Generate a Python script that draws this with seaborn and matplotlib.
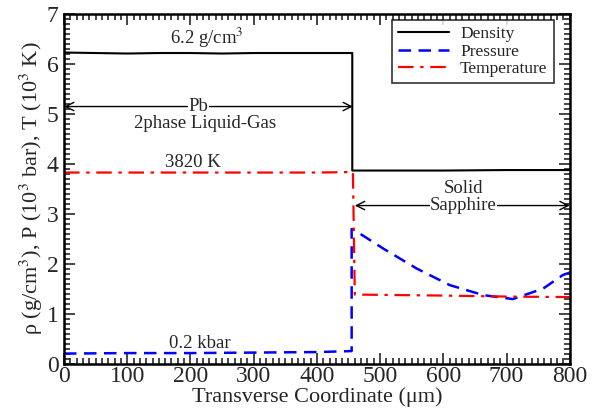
import matplotlib
matplotlib.use("Agg")
import matplotlib.pyplot as plt
import seaborn as sns
import numpy as np
import pandas as pd
from matplotlib.ticker import MultipleLocator

# ---- data ----
density_x = [0, 50, 100, 150, 200, 250, 300, 350, 400, 456, 456, 500, 600, 700, 800]
density_y = [6.22, 6.21, 6.20, 6.21, 6.21, 6.20, 6.21, 6.21, 6.21, 6.21, 3.86, 3.86, 3.86, 3.87, 3.87]

pressure_x = [0, 100, 200, 300, 400, 455, 455, 458, 505, 558, 610, 663, 710, 758, 789, 800]
pressure_y = [0.20, 0.21, 0.21, 0.22, 0.23, 0.25, 2.69, 2.68, 2.30, 1.90, 1.57, 1.37, 1.29, 1.50, 1.77, 1.82]

temperature_x = [0, 100, 200, 300, 400, 457, 457, 460, 600, 700, 800]
temperature_y = [3.82, 3.82, 3.82, 3.82, 3.82, 3.83, 3.83, 1.38, 1.36, 1.34, 1.33]

series_names = ["Density", "Pressure", "Temperature"]
series_colors = ["black", "blue", "red"]

xticks = [0, 100, 200, 300, 400, 500, 600, 700, 800]
yticks = [0, 1, 2, 3, 4, 5, 6, 7]

# ---- styling ----
sns.set_theme(style="ticks")
plt.rcParams["font.family"] = ["Liberation Serif", "DejaVu Serif"]
plt.rcParams["mathtext.fontset"] = "stix"

fig = plt.figure(figsize=(6.01, 4.16), dpi=100)
ax = fig.add_axes([0.1065, 0.126, 0.8415, 0.8415])

frames = []
for name, xs, ys in zip(series_names,
                        [density_x, pressure_x, temperature_x],
                        [density_y, pressure_y, temperature_y]):
    frames.append(pd.DataFrame({"x": xs, "y": ys, "series": name}))
df = pd.concat(frames, ignore_index=True)

styles = {"Density": (None, 1.5), "Pressure": ((0, (5, 3)), 1.8),
          "Temperature": ((0, (7, 3, 1.5, 3)), 1.6)}
for name, color in zip(series_names, series_colors):
    sub = df[df.series == name]
    ls, lw = styles[name]
    sns.lineplot(x="x", y="y", data=sub, sort=False, estimator=None,
                 color=color, linewidth=lw, label=name, ax=ax)
    if ls is not None:
        ax.lines[-1].set_linestyle(ls)

ax.set_xlim(0, 800)
ax.set_ylim(0, 7)
ax.set_xticks(xticks)
ax.set_yticks(yticks)
ax.xaxis.set_minor_locator(MultipleLocator(10))
ax.yaxis.set_minor_locator(MultipleLocator(0.1))
ax.tick_params(which="both", direction="in", top=True, right=True, width=1.2)
ax.tick_params(which="major", length=8, labelsize=17)
ax.tick_params(axis="x", which="major", pad=2)
ax.tick_params(axis="y", which="major", pad=4)
ax.tick_params(which="minor", length=4)
for s in ax.spines.values():
    s.set_linewidth(1.8)
    s.set_color("black")

ax.set_xlabel("Transverse Coordinate (μm)", fontsize=16, labelpad=0)
ax.set_ylabel(r"ρ (g/cm$^3$), P (10$^3$ bar), T (10$^3$ K)", fontsize=16, labelpad=1)

leg = ax.legend(loc="upper right", bbox_to_anchor=(0.968, 0.982), borderaxespad=0,
                fontsize=12.5, frameon=True, fancybox=False, edgecolor="black",
                handlelength=2.9, borderpad=0.35, labelspacing=0.08, handletextpad=0.65)
leg.get_frame().set_linewidth(1.2)

# annotations
ax.text(226, 6.27, r"6.2 g/cm$^3$", ha="center", va="bottom", fontsize=13.5)
ax.text(204, 3.85, "3820 K", ha="center", va="bottom", fontsize=13.5)
ax.text(215, 0.23, "0.2 kbar", ha="center", va="bottom", fontsize=13.5)

ax.annotate("", xy=(0, 5.14), xytext=(457, 5.14),
            arrowprops=dict(arrowstyle="<->", color="black", lw=1.0, shrinkA=0, shrinkB=0,
                            mutation_scale=15))
ax.text(213, 5.14, "Pb", ha="center", va="center", fontsize=13.5,
        bbox=dict(facecolor="white", edgecolor="none", pad=0.3))
ax.text(223, 4.81, "2phase Liquid-Gas", ha="center", va="center", fontsize=13.5)

ax.annotate("", xy=(460, 3.16), xytext=(800, 3.16),
            arrowprops=dict(arrowstyle="<->", color="black", lw=1.0, shrinkA=0, shrinkB=0,
                            mutation_scale=15))
ax.text(632, 3.16, "Sapphire", ha="center", va="center", fontsize=13.5,
        bbox=dict(facecolor="white", edgecolor="none", pad=0.1))
ax.text(632, 3.5, "Solid", ha="center", va="center", fontsize=13.5)

fig.savefig("out.png", dpi=100)
